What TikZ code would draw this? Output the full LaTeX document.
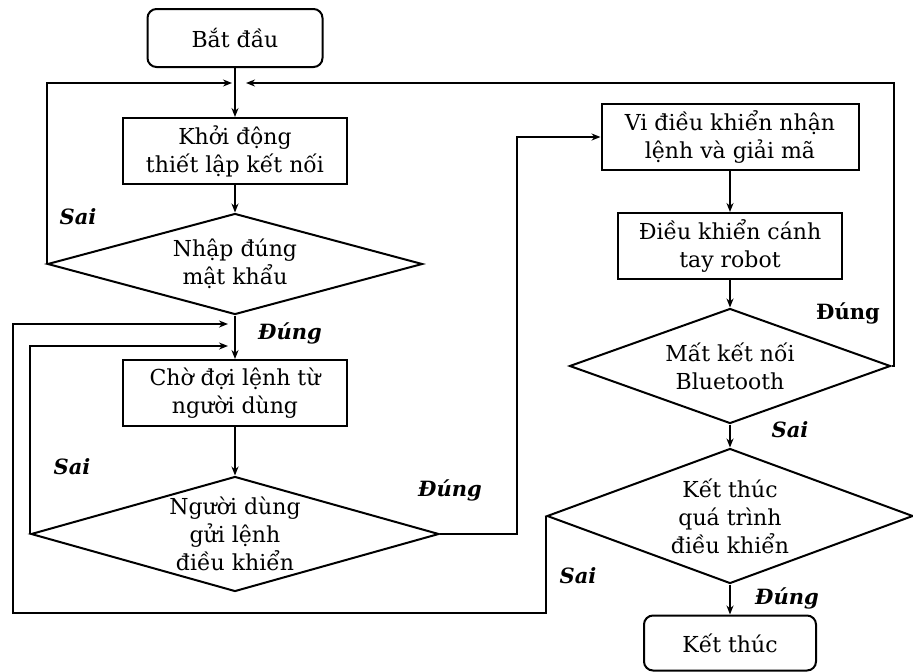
\documentclass[tikz,border=0pt]{standalone}
\usepackage{fontspec}
\setmainfont{DejaVu Serif}
\usetikzlibrary{shapes.geometric,arrows.meta}
\newcommand{\boxfont}{\fontsize{22}{28}\selectfont}
\newcommand{\answerfont}{\fontsize{21}{26}\selectfont}
\tikzset{
  startstop/.style={draw, rounded corners=9pt, line width=2pt, align=center, font=\boxfont, minimum width=175pt, minimum height=58pt},
  process/.style={draw, line width=2pt, align=center, font=\boxfont, minimum width=224pt, minimum height=66pt, inner sep=1pt},
  decision/.style={draw, diamond, line width=2pt, align=center, font=\boxfont, inner sep=-8pt, shape aspect=3},
  flow/.style={line width=2pt, -{Stealth[length=9pt,width=7pt]}},
  answer/.style={font=\answerfont\bfseries\itshape},
}
\begin{document}
\begin{tikzpicture}[x=1pt,y=-1pt]
\useasboundingbox (0,0) rectangle (913,672);
\node[startstop] (start) at (235,38) {Bắt đầu};
\node[process] (init) at (235,151) {Khởi động\\thiết lập kết nối};
\node[decision, minimum width=375pt, minimum height=101pt] (pass) at (235,264) {Nhập đúng\\mật khẩu};
\node[process] (wait) at (235,393) {Chờ đợi lệnh từ\\người dùng};
\node[decision, minimum width=408pt, minimum height=115pt] (send) at (235,534) {Người dùng\\gửi lệnh\\điều khiển};
\node[process, minimum width=257pt] (decode) at (730,137) {Vi điều khiển nhận\\lệnh và giải mã};
\node[process] (arm) at (730,246) {Điều khiển cánh\\tay robot};
\node[decision, minimum width=321pt, minimum height=115pt] (lost) at (730,366) {Mất kết nối\\Bluetooth};
\node[decision, minimum width=366pt, minimum height=135pt] (quit) at (730,516) {Kết thúc\\quá trình\\điều khiển};
\node[startstop, minimum width=172pt, minimum height=55pt] (stop) at (730,643) {Kết thúc};
\coordinate (inL) at (232,83);
\coordinate (inR) at (246,83);
\coordinate (waitA) at (228,324);
\coordinate (waitB) at (228,346);
\draw[flow] (start) -- (init);
\draw[flow] (init) -- (pass);
\draw[flow] (pass) -- (wait);
\draw[flow] (wait) -- (send);
\draw[flow] (decode) -- (arm);
\draw[flow] (arm) -- (lost);
\draw[flow] (lost) -- (quit);
\draw[flow] (quit) -- (stop);
\draw[flow] (pass.west) |- (inL);
\draw[flow] (lost.east) -- ++(2,0) |- (inR);
\draw[flow] (send.west) |- (waitB);
\draw[flow] (send.east) -- ++(77,0) |- (decode.west);
\draw[flow] (quit.west) -- ++(0,97) -| (13,324) -- (waitA);
\node[answer] (sai1) at (78,217) {Sai};
\node[answer] (dung1) at (290,333) {Đúng};
\node[answer] (sai2) at (72,467) {Sai};
\node[answer] (dung2) at (450,490) {Đúng};
\node[font=\answerfont\bfseries] (dung3) at (848,313) {Đúng};
\node[answer] (sai3) at (790,430) {Sai};
\node[answer] (sai4) at (578,576) {Sai};
\node[answer] (dung4) at (787,598) {Đúng};
\end{tikzpicture}
\end{document}
